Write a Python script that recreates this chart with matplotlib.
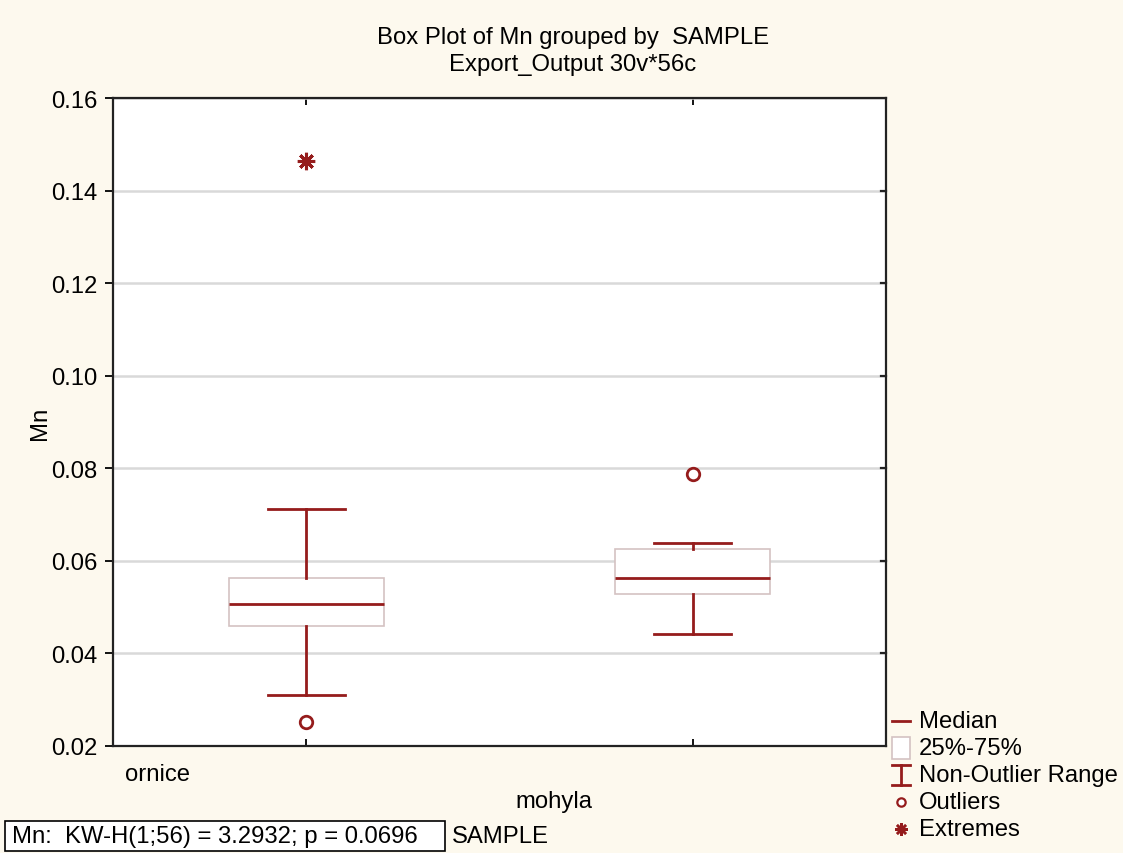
import matplotlib
matplotlib.use("Agg")
import matplotlib.pyplot as plt
from matplotlib.lines import Line2D
from matplotlib.patches import Rectangle

# ---- data ----
categories = ["ornice", "mohyla"]
medians = [0.0507, 0.0564]
q1s = [0.0459, 0.0528]
q3s = [0.0562, 0.0625]
whis_lo = [0.0310, 0.0443]
whis_hi = [0.0711, 0.0639]
outliers = [[0.0251], [0.0787]]
extremes = [[0.1463], []]
yticks = [0.02, 0.04, 0.06, 0.08, 0.10, 0.12, 0.14, 0.16]

title1 = "Box Plot of Mn grouped by  SAMPLE"
title2 = "Export_Output 30v*56c"
stat_text = "Mn:  KW-H(1;56) = 3.2932; p = 0.0696"
group_var = "SAMPLE"
legend_labels = ["Median", "25%-75%", "Non-Outlier Range", "Outliers", "Extremes"]

# ---- style ----
FONT = "Liberation Sans"
FS = 17.2
BG = "#fdf9ee"
RED = "#951c1c"
BOXEDGE = "#d4c2c2"
GRID = "#d9d9d9"

W, H = 1123, 854
fig = plt.figure(figsize=(W / 100, H / 100), dpi=100, facecolor=BG)
plt.rcParams["font.family"] = [FONT, "DejaVu Sans"]


def fx(px):
    return px / W


def fy(py):
    return 1 - py / H


ax = fig.add_axes([fx(113), fy(747), fx(886) - fx(113), fy(99) - fy(747)])
ax.set_facecolor("white")

positions = [1, 2]
stats = []
for i in range(len(categories)):
    stats.append(dict(med=medians[i], q1=q1s[i], q3=q3s[i],
                      whislo=whis_lo[i], whishi=whis_hi[i], fliers=[]))

ax.bxp(stats, positions=positions, widths=0.4, capwidths=0.2,
       patch_artist=True, showfliers=False, manage_ticks=False,
       boxprops=dict(facecolor="white", edgecolor=BOXEDGE, linewidth=1.2),
       medianprops=dict(color=RED, linewidth=2.0),
       whiskerprops=dict(color=RED, linewidth=2.0),
       capprops=dict(color=RED, linewidth=2.0))

for p, outs in zip(positions, outliers):
    ax.plot([p] * len(outs), outs, linestyle="none", marker="o",
            markersize=9, markerfacecolor="white", markeredgecolor=RED,
            markeredgewidth=2.0, zorder=5)
for p, ex in zip(positions, extremes):
    if ex:
        ax.plot([p] * len(ex), ex, linestyle="none", marker=(8, 2, 0),
                markersize=12.5, markeredgecolor=RED, markeredgewidth=2.2,
                color=RED, zorder=5)
        ax.plot([p] * len(ex), ex, linestyle="none", marker="o",
                markersize=5, color=RED, zorder=6)

ax.set_xlim(0.5, 2.5)
ax.set_ylim(yticks[0], yticks[-1])
ax.set_yticks(yticks)
ax.set_yticklabels([f"{v:.2f}" for v in yticks], fontsize=FS)
ax.set_xticks(positions)
ax.set_xticklabels([])
ax.tick_params(axis="y", direction="out", length=6, width=1.3, left=True,
               right=False, pad=5)
ax.tick_params(axis="x", direction="in", length=5, width=1.3, top=True,
               bottom=True)
ax.set_axisbelow(True)
ax.grid(axis="y", color=GRID, linewidth=1.8)
for s in ax.spines.values():
    s.set_linewidth(1.6)
    s.set_color("#222222")

# right-side small inward ticks
for v in yticks[1:-1]:
    ax.plot([2.5 - 0.012, 2.5], [v, v], color="#222222", lw=1.6,
            clip_on=False, zorder=3)

ax.set_ylabel("Mn", fontsize=FS, labelpad=0)

# category labels (staggered, offset left as in reference)
label_offsets = [-0.385, -0.36]
label_rows = [775, 802]
for p, name, off, row in zip(positions, categories, label_offsets, label_rows):
    x_disp = ax.transData.transform((p + off, 0))[0]
    fig.text(x_disp / W, fy(row), name, fontsize=FS, ha="center",
             va="center")

# titles
fig.text(fx(573), fy(38), title1, fontsize=FS, ha="center", va="center")
fig.text(fx(573), fy(65), title2, fontsize=FS, ha="center", va="center")

# bottom stats box
fig.add_artist(Rectangle((fx(5), fy(852)), fx(445) - fx(5), fy(822) - fy(852),
                         transform=fig.transFigure, facecolor="white",
                         edgecolor="black", linewidth=1.2))
fig.text(fx(12), fy(837), stat_text, fontsize=FS, ha="left", va="center")
fig.text(fx(452), fy(837), group_var, fontsize=FS, ha="left", va="center")

# legend (drawn manually)
rows = [722, 749, 776, 803, 830]
mx = 901
fig.add_artist(Line2D([fx(892), fx(910)], [fy(rows[0])] * 2, color=RED,
                      lw=2.0, transform=fig.transFigure))
fig.add_artist(Rectangle((fx(892), fy(rows[1] + 11)), fx(18), fy(rows[1] - 11) - fy(rows[1] + 11),
                         transform=fig.transFigure, facecolor="white",
                         edgecolor=BOXEDGE, linewidth=1.2))
fig.add_artist(Line2D([fx(mx), fx(mx)], [fy(rows[2] - 10), fy(rows[2] + 10)], color=RED,
                      lw=2.0, transform=fig.transFigure))
fig.add_artist(Line2D([fx(892), fx(910)], [fy(rows[2] - 10)] * 2, color=RED,
                      lw=2.0, transform=fig.transFigure))
fig.add_artist(Line2D([fx(892), fx(910)], [fy(rows[2] + 10)] * 2, color=RED,
                      lw=2.0, transform=fig.transFigure))
fig.add_artist(Line2D([fx(mx)], [fy(rows[3])], marker="o", markersize=6,
                      markerfacecolor="white", markeredgecolor=RED,
                      markeredgewidth=1.6, linestyle="none",
                      transform=fig.transFigure))
fig.add_artist(Line2D([fx(mx)], [fy(rows[4])], marker=(8, 2, 0),
                      markersize=9, markeredgecolor=RED, markeredgewidth=1.8,
                      linestyle="none", transform=fig.transFigure))
for r, lab in zip(rows, legend_labels):
    fig.text(fx(919), fy(r), lab, fontsize=FS, ha="left", va="center")

fig.savefig("out.png", dpi=100, facecolor=BG)
